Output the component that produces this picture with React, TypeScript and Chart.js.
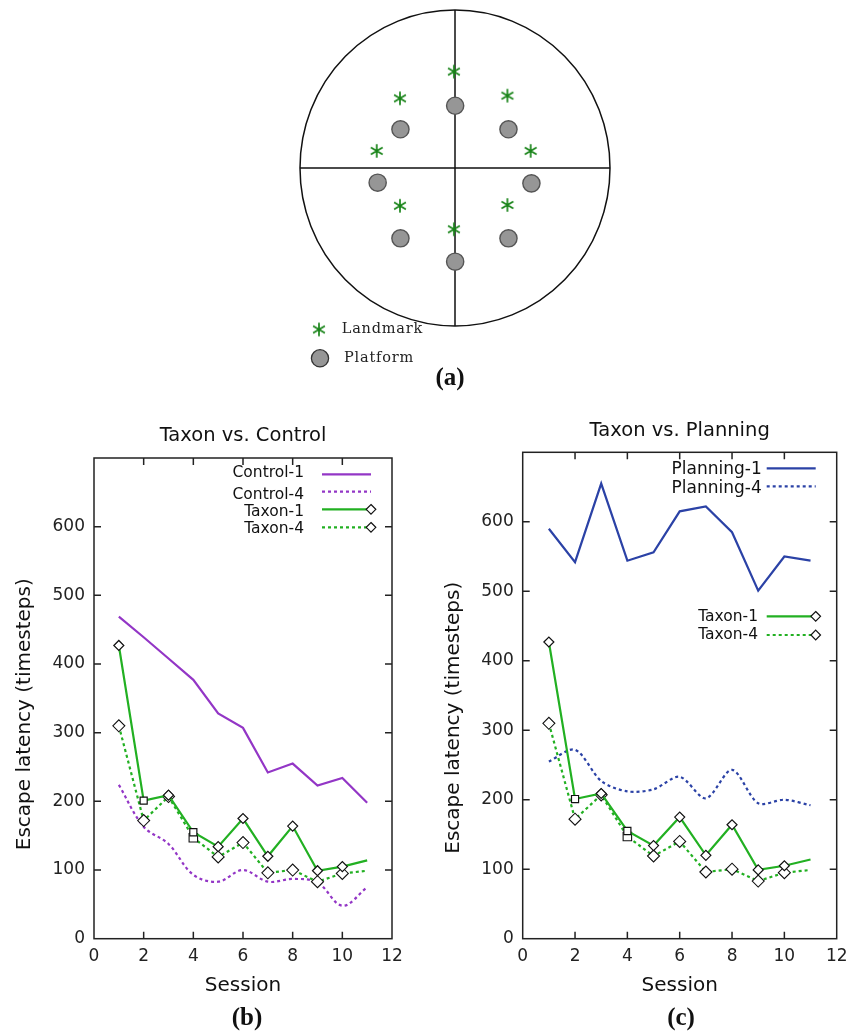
import React, { useEffect, useRef } from 'react';
import { Chart, registerables } from 'chart.js';

Chart.register(...registerables);
Chart.defaults.font.family = '"DejaVu Sans", sans-serif';

// ---------------- data ----------------
const SESSIONS = [1, 2, 3, 4, 5, 6, 7, 8, 9, 10, 11];
const CONTROL_1 = [469, 439, 408, 377, 328, 307, 242, 255, 223, 234, 198];
const CONTROL_4 = [224, 163, 138, 93, 83, 100, 83, 87, 82, 48, 75];
const TAXON_1 = [427, 201, 209, 155, 134, 175, 120, 164, 99, 105, 114];
const TAXON_4 = [310, 172, 207, 147, 119, 140, 96, 100, 83, 95, 99];
const PLANNING_1 = [590, 542, 655, 544, 556, 615, 622, 585, 501, 550, 544];
const PLANNING_4 = [255, 272, 227, 212, 215, 233, 202, 243, 195, 200, 192];

const X_TICKS = [0, 2, 4, 6, 8, 10, 12];
const Y_TICKS = [0, 100, 200, 300, 400, 500, 600];

// arena diagram (units: arena radius = 100)
const LANDMARK_X = [-0.7, -35.5, 33.8, -50.5, 48.8, -35.5, 33.8, -0.7];
const LANDMARK_Y = [61, 44.1, 45.8, 10.8, 10.8, -23.9, -23.4, -38.8];
const PLATFORM_X = [0.1, -35.2, 34.5, -49.9, 49.3, -35.2, 34.5, 0.1];
const PLATFORM_Y = [39.4, 24.5, 24.5, -9.3, -9.7, -44.5, -44.5, -59.3];
const ARENA_RADIUS = 100;

// ---------------- styles ----------------
const PURPLE = '#9336c6';
const GREEN = '#22b022';
const BLUE = '#2b42a6';
const LANDMARK_GREEN = '#178317';

const TAXON1_SHAPES = ['rectRot', 'rect', 'rectRot', 'rect', 'rectRot', 'rectRot', 'rectRot', 'rectRot', 'rectRot', 'rectRot', 'rectRot'];
const TAXON1_RADII = [5, 5, 5, 5, 5, 5, 5, 5, 5, 5, 0];
const TAXON4_SHAPES = ['rectRot', 'rectRot', 'rectRot', 'rect', 'rectRot', 'rectRot', 'rectRot', 'rectRot', 'rectRot', 'rectRot', 'rectRot'];
const TAXON4_RADII = [6, 6, 6, 6, 6, 6, 6, 6, 6, 6, 0];

const pts = (ys: number[]) => SESSIONS.map((x, i) => ({ x, y: ys[i] }));

function drawDiamond(ctx: CanvasRenderingContext2D, x: number, y: number, r: number) {
  ctx.save();
  ctx.setLineDash([]);
  ctx.beginPath();
  ctx.moveTo(x, y - r);
  ctx.lineTo(x + r, y);
  ctx.lineTo(x, y + r);
  ctx.lineTo(x - r, y);
  ctx.closePath();
  ctx.fillStyle = '#fff';
  ctx.fill();
  ctx.strokeStyle = '#111';
  ctx.lineWidth = 1.2;
  ctx.stroke();
  ctx.restore();
}

const framePlugin = {
  id: 'gpFrame',
  afterDraw(chart: any, _args: any, opts: any) {
    const { ctx, chartArea: a, scales } = chart;
    ctx.save();
    ctx.setLineDash([]);
    ctx.strokeStyle = '#222';
    ctx.lineWidth = 1.5;
    ctx.strokeRect(a.left, a.top, a.right - a.left, a.bottom - a.top);
    const L = 7;
    ctx.beginPath();
    scales.x.ticks.forEach((t: any) => {
      if (t.value <= scales.x.min || t.value >= scales.x.max) return;
      const px = scales.x.getPixelForValue(t.value);
      ctx.moveTo(px, a.bottom);
      ctx.lineTo(px, a.bottom - L);
      ctx.moveTo(px, a.top);
      ctx.lineTo(px, a.top + L);
    });
    scales.y.ticks.forEach((t: any) => {
      if (t.value <= scales.y.min || t.value >= scales.y.max) return;
      const py = scales.y.getPixelForValue(t.value);
      ctx.moveTo(a.left, py);
      ctx.lineTo(a.left + L, py);
      ctx.moveTo(a.right, py);
      ctx.lineTo(a.right - L, py);
    });
    ctx.stroke();

    (opts.items || []).forEach((it: any) => {
      const ds = chart.data.datasets[it.dataset];
      ctx.font = `${it.size}px "DejaVu Sans", sans-serif`;
      ctx.fillStyle = '#111';
      ctx.textAlign = 'right';
      ctx.textBaseline = 'middle';
      ctx.fillText(ds.label, a.right - it.textRight, a.top + it.textY);
      ctx.strokeStyle = ds.borderColor;
      ctx.lineWidth = 2.2;
      ctx.setLineDash(ds.borderDash || []);
      ctx.beginPath();
      ctx.moveTo(a.right - it.lineFrom, a.top + it.lineY);
      ctx.lineTo(a.right - it.lineTo, a.top + it.lineY);
      ctx.stroke();
      if (it.marker) drawDiamond(ctx, a.right - it.lineTo, a.top + it.lineY, 4.8);
    });
    ctx.restore();
  },
};

function makeAsterisk(color: string) {
  const c = document.createElement('canvas');
  c.width = 16;
  c.height = 16;
  const g = c.getContext('2d')!;
  g.strokeStyle = color;
  g.lineWidth = 1.7;
  g.lineCap = 'butt';
  const cx = 8, cy = 8, r = 6.8;
  g.beginPath();
  [90, 30, 150].forEach((deg) => {
    const t = (deg * Math.PI) / 180;
    g.moveTo(cx + r * Math.cos(t), cy - r * Math.sin(t));
    g.lineTo(cx - r * Math.cos(t), cy + r * Math.sin(t));
  });
  g.stroke();
  return c;
}

const arenaPlugin = {
  id: 'arena',
  beforeDatasetsDraw(chart: any) {
    const { ctx, scales: { x, y } } = chart;
    const cx = x.getPixelForValue(0);
    const cy = y.getPixelForValue(0);
    const rx = x.getPixelForValue(ARENA_RADIUS) - cx;
    const ry = cy - y.getPixelForValue(ARENA_RADIUS);
    ctx.save();
    ctx.strokeStyle = '#111';
    ctx.lineWidth = 1.5;
    ctx.beginPath();
    ctx.ellipse(cx, cy, rx, ry, 0, 0, Math.PI * 2);
    ctx.stroke();
    ctx.beginPath();
    ctx.moveTo(x.getPixelForValue(-ARENA_RADIUS), cy);
    ctx.lineTo(x.getPixelForValue(ARENA_RADIUS), cy);
    ctx.moveTo(cx, y.getPixelForValue(ARENA_RADIUS));
    ctx.lineTo(cx, y.getPixelForValue(-ARENA_RADIUS));
    ctx.stroke();
    ctx.restore();
  },
  afterDraw(chart: any, _args: any, opts: any) {
    const { ctx, chartArea: a } = chart;
    ctx.save();
    const ds0 = chart.data.datasets[0];
    const ds1 = chart.data.datasets[1];
    ctx.drawImage(opts.asterisk, a.left + 19 - 8, a.bottom + 3.5 - 8);
    ctx.beginPath();
    ctx.arc(a.left + 20, a.bottom + 32.3, 8.6, 0, Math.PI * 2);
    ctx.fillStyle = ds1.backgroundColor;
    ctx.fill();
    ctx.strokeStyle = '#333';
    ctx.lineWidth = 1.3;
    ctx.stroke();
    ctx.font = '14.5px "DejaVu Serif", serif';
    (ctx as any).letterSpacing = '0.8px';
    ctx.fillStyle = '#222';
    ctx.textAlign = 'left';
    ctx.textBaseline = 'middle';
    ctx.fillText(ds0.label, a.left + 41.7, a.bottom + 3.3);
    ctx.fillText(ds1.label, a.left + 44, a.bottom + 32.3);
    ctx.restore();
  },
};

function taxonDatasets() {
  return [
    {
      label: 'Taxon-1',
      data: pts(TAXON_1),
      borderColor: GREEN,
      borderWidth: 2.2,
      pointStyle: TAXON1_SHAPES,
      pointRadius: TAXON1_RADII,
      pointBackgroundColor: '#fff',
      pointBorderColor: '#111',
      pointBorderWidth: 1.2,
      tension: 0,
    },
    {
      label: 'Taxon-4',
      data: pts(TAXON_4),
      borderColor: GREEN,
      borderWidth: 2.2,
      borderDash: [3, 3],
      pointStyle: TAXON4_SHAPES,
      pointRadius: TAXON4_RADII,
      pointBackgroundColor: '#fff',
      pointBorderColor: '#111',
      pointBorderWidth: 1.1,
      tension: 0,
    },
  ];
}

function lineOptions(title: string, titlePad: any, yWidth: number, yTitlePad: number, rightPad: number, yTitleText: string, items: any[]) {
  return {
    animation: false,
    responsive: false,
    events: [],
    layout: { padding: { left: 0, right: rightPad, top: 0, bottom: 0 } },
    plugins: {
      legend: { display: false },
      tooltip: { enabled: false },
      title: {
        display: true,
        text: title,
        fullSize: false,
        color: '#111',
        font: { size: 19.5, weight: 'normal' },
        padding: titlePad,
      },
      gpFrame: { items },
    },
    scales: {
      x: {
        type: 'linear',
        min: 0,
        max: 12,
        afterBuildTicks: (s: any) => {
          s.ticks = X_TICKS.map((v) => ({ value: v }));
        },
        afterFit: (s: any) => {
          s.height = 71.3;
        },
        grid: { display: false, drawTicks: false },
        border: { display: false },
        ticks: { font: { size: 17 }, color: '#222', padding: 8, maxRotation: 0, autoSkip: false },
        title: { display: true, text: 'Session', color: '#111', font: { size: 20 }, padding: { top: 0, bottom: 12 } },
      },
      y: {
        type: 'linear',
        min: 0,
        max: 700,
        afterBuildTicks: (s: any) => {
          s.ticks = Y_TICKS.map((v) => ({ value: v }));
        },
        afterFit: (s: any) => {
          s.width = yWidth;
        },
        grid: { display: false, drawTicks: false },
        border: { display: false },
        ticks: { font: { size: 17 }, color: '#222', padding: 9 },
        title: { display: true, text: yTitleText, color: '#111', font: { size: 20 }, padding: { top: yTitlePad, bottom: 0 } },
      },
    },
  };
}

function makeControlConfig() {
  return {
    type: 'line',
    data: {
      datasets: [
        ...taxonDatasets(),
        {
          label: 'Control-4',
          data: pts(CONTROL_4),
          borderColor: PURPLE,
          borderWidth: 2.2,
          borderDash: [3, 3],
          pointRadius: 0,
          tension: 0.35,
        },
        {
          label: 'Control-1',
          data: pts(CONTROL_1),
          borderColor: PURPLE,
          borderWidth: 2.2,
          pointRadius: 0,
          tension: 0,
        },
      ],
    },
    options: lineOptions(
      'Taxon vs. Control',
      { top: 14.3, bottom: 10.3 },
      94,
      13,
      33,
      'Escape latency (timesteps)     ',
      [
        { dataset: 3, size: 15.5, textRight: 88, textY: 15.3, lineFrom: 70, lineTo: 21, lineY: 16.3 },
        { dataset: 2, size: 15.5, textRight: 88, textY: 37, lineFrom: 70, lineTo: 21, lineY: 33.7 },
        { dataset: 0, size: 15.5, textRight: 88, textY: 53.7, lineFrom: 70, lineTo: 21, lineY: 51.3, marker: true },
        { dataset: 1, size: 15.5, textRight: 88, textY: 71.3, lineFrom: 70, lineTo: 21, lineY: 69.3, marker: true },
      ]
    ),
    plugins: [framePlugin],
  };
}

function makePlanningConfig() {
  return {
    type: 'line',
    data: {
      datasets: [
        ...taxonDatasets(),
        {
          label: 'Planning-4',
          data: pts(PLANNING_4),
          borderColor: BLUE,
          borderWidth: 2.2,
          borderDash: [3, 3],
          pointRadius: 0,
          tension: 0.3,
        },
        {
          label: 'Planning-1',
          data: pts(PLANNING_1),
          borderColor: BLUE,
          borderWidth: 2.2,
          pointRadius: 0,
          tension: 0,
        },
      ],
    },
    options: lineOptions(
      'Taxon vs. Planning',
      { top: 9, bottom: 9.9 },
      92.7,
      11.3,
      24.3,
      'Escape latency (timesteps)       ',
      [
        { dataset: 3, size: 17, textRight: 75, textY: 17, lineFrom: 70, lineTo: 21, lineY: 16 },
        { dataset: 2, size: 17, textRight: 75, textY: 36, lineFrom: 70, lineTo: 21, lineY: 34 },
        { dataset: 0, size: 15.5, textRight: 78.7, textY: 165, lineFrom: 70, lineTo: 21, lineY: 164, marker: true },
        { dataset: 1, size: 15.5, textRight: 78.7, textY: 182.7, lineFrom: 70, lineTo: 21, lineY: 182.7, marker: true },
      ]
    ),
    plugins: [framePlugin],
  };
}

function makeArenaConfig() {
  const asterisk = makeAsterisk(LANDMARK_GREEN);
  return {
    type: 'scatter',
    data: {
      datasets: [
        {
          label: 'Landmark',
          data: LANDMARK_X.map((x, i) => ({ x, y: LANDMARK_Y[i] })),
          pointStyle: asterisk,
          pointRadius: 8,
        },
        {
          label: 'Platform',
          data: PLATFORM_X.map((x, i) => ({ x, y: PLATFORM_Y[i] })),
          pointStyle: 'circle',
          pointRadius: 8.6,
          backgroundColor: '#969696',
          borderColor: '#555',
          borderWidth: 1.4,
        },
      ],
    },
    options: {
      animation: false,
      responsive: false,
      events: [],
      layout: { padding: { left: 6, right: 8.3, top: 10, bottom: 46 } },
      scales: {
        x: { display: false, min: -ARENA_RADIUS, max: ARENA_RADIUS },
        y: { display: false, min: -ARENA_RADIUS, max: ARENA_RADIUS },
      },
      plugins: { legend: { display: false }, tooltip: { enabled: false }, arena: { asterisk } },
    },
    plugins: [arenaPlugin],
  };
}

function ChartCanvas({ make, left, top, width, height }: any) {
  const ref = useRef<HTMLCanvasElement>(null);
  useEffect(() => {
    const chart = new Chart(ref.current as any, make());
    return () => chart.destroy();
  }, []);
  return (
    <canvas
      ref={ref}
      width={width}
      height={height}
      style={{ position: 'absolute', left, top, width, height }}
    />
  );
}

function Label({ text, cx, cy }: any) {
  return (
    <div
      style={{
        position: 'absolute',
        left: cx - 40,
        top: cy - 16,
        width: 80,
        height: 32,
        lineHeight: '32px',
        textAlign: 'center',
        font: 'bold 25px "Liberation Serif", serif',
        color: '#111',
      }}
    >
      {text}
    </div>
  );
}

export default function App() {
  return (
    <div style={{ position: 'absolute', left: 0, top: 0, width: 861, height: 1035, background: '#fff', overflow: 'hidden' }}>
      <ChartCanvas make={makeArenaConfig} left={290} top={0} width={330} height={372} />
      <ChartCanvas make={makeControlConfig} left={0} top={410} width={425} height={600} />
      <ChartCanvas make={makePlanningConfig} left={430} top={410} width={431} height={600} />
      <Label text="(a)" cx={450} cy={379} />
      <Label text="(b)" cx={247} cy={1019} />
      <Label text="(c)" cx={681} cy={1019} />
    </div>
  );
}
